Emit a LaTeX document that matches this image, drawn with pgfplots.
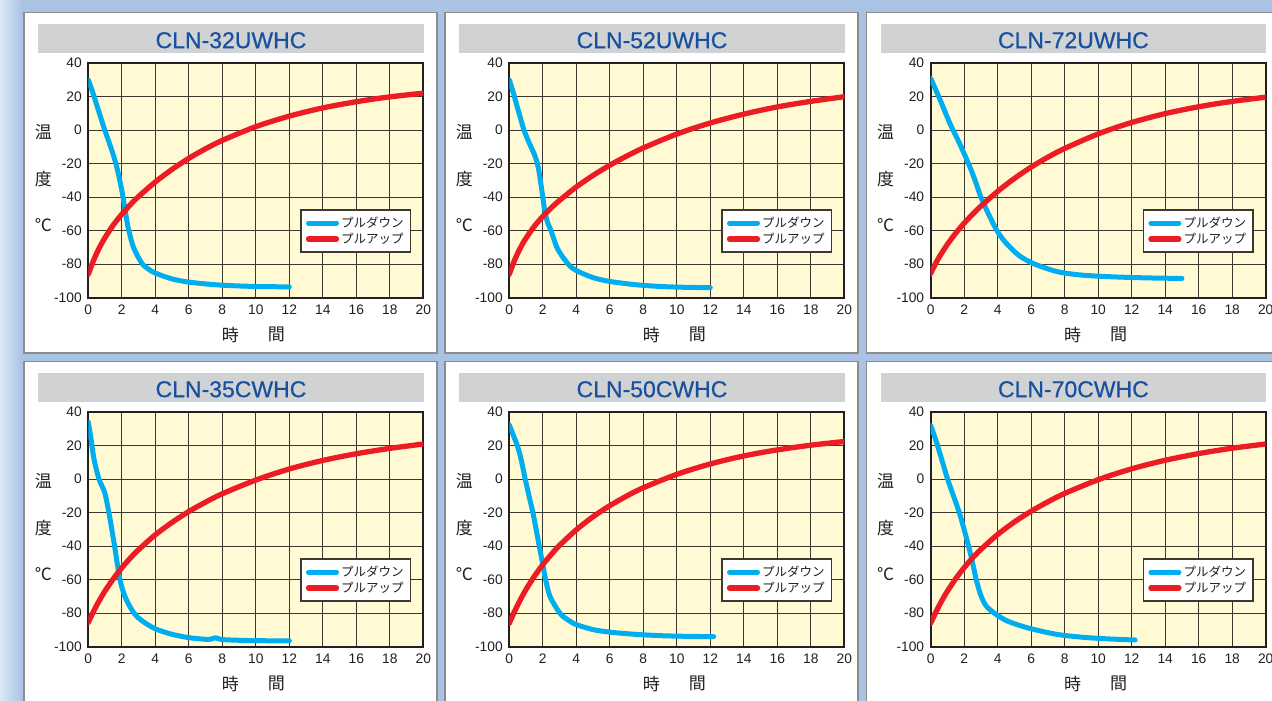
\documentclass[border=0pt]{standalone}
\usepackage{fontspec}
\setmainfont{Liberation Sans}
\newfontfamily\jp{Noto Sans CJK JP}
\newfontfamily\titlefont[FakeBold=0.6]{Liberation Sans}
\usepackage{pgfplots}
\pgfplotsset{compat=1.18}

\definecolor{bgblue}{RGB}{170,194,228}
\definecolor{bglight}{RGB}{218,233,246}
\definecolor{panelc}{RGB}{140,140,140}
\definecolor{titlebar}{RGB}{209,210,212}
\definecolor{titlec}{RGB}{24,80,160}
\definecolor{plotbg}{RGB}{255,250,212}
\definecolor{gridc}{RGB}{60,55,48}
\definecolor{tickc}{RGB}{35,31,32}
\definecolor{pulldown}{RGB}{0,174,239}
\definecolor{pullup}{RGB}{237,28,36}

\pgfplotsset{
  panel/.style={
    scale only axis, width=335pt, height=234.5pt,
    anchor=south west,
    xmin=0, xmax=20, ymin=-100, ymax=40,
    xtick={0,2,...,20}, ytick={-100,-80,...,40},
    xticklabels={0,2,4,6,8,10,12,14,16,18,20},
    yticklabels={-100,-80,-60,-40,-20,0,20,40},
    grid=major,
    major grid style={gridc, line width=1.3pt},
    axis line style={tickc, line width=1.7pt},
    major tick length=0pt,
    tick label style={font=\fontsize{13.8}{14}\selectfont, text=tickc},
    xticklabel style={yshift=-4pt},
    yticklabel style={xshift=-3pt},
    axis background/.style={fill=plotbg},
    legend style={
      at={(1,0)}, anchor=south east, xshift=-12pt, yshift=45pt,
      draw=gridc, line width=1.3pt, fill=white,
      font=\jp\fontsize{12.5}{12.5}\selectfont, text=tickc,
      inner xsep=5pt, inner ysep=5pt,
      nodes={inner sep=2pt},
    },
    legend cell align=left,
    legend image code/.code={\draw[#1] (0pt,0pt) -- (28pt,0pt);},
  },
  pd/.style={pulldown, line width=5pt, line cap=round, line join=round, smooth},
  pu/.style={pullup, line width=5.3pt, line cap=round, line join=round, smooth},
}

% #1 axis left, #2 axis bottom, #3 title, #4 pull-down data, #5 pull-up data
\newcommand\panel[5]{%
  \fill[white] ({#1-64.3},{#2-55.3}) rectangle ({#1+348.7},{#2+285.1});
  \draw[panelc, line width=1.5pt] ({#1-64.3},{#2-55.3}) rectangle ({#1+348.7},{#2+285.1});
  \fill[titlebar] ({#1-50},{#2+245.1}) rectangle ({#1+335.5},{#2+273.5});
  \node[anchor=base, text=titlec, font=\titlefont\fontsize{23}{23}\selectfont] at ({#1+142.7},{#2+249.5}) {#3};
  \node[font=\jp\fontsize{17}{17}\selectfont, text=tickc] at ({#1-45},{#2+165.5}) {温};
  \node[font=\jp\fontsize{17}{17}\selectfont, text=tickc] at ({#1-45},{#2+119}) {度};
  \node[font=\jp\fontsize{17}{17}\selectfont, text=tickc] at ({#1-45},{#2+72.5}) {℃};
  \node[font=\jp\fontsize{17}{17}\selectfont, text=tickc] at ({#1+142},{#2-37}) {時};
  \node[font=\jp\fontsize{17}{17}\selectfont, text=tickc] at ({#1+188},{#2-37}) {間};
  \begin{axis}[panel, at={(#1pt,#2pt)}]
    \addplot[pd] coordinates {#4};
    \addlegendentry{プルダウン}
    \addplot[pu] coordinates {#5};
    \addlegendentry{プルアップ}
  \end{axis}
}

\begin{document}
\begin{tikzpicture}[x=1pt, y=1pt]
\useasboundingbox (0,0) rectangle (1272,701);
\clip (0,0) rectangle (1272,701);
\fill[bgblue] (0,0) rectangle (1272,701);
\shade[left color=bglight, right color=bgblue] (0,0) rectangle (22,701);

% CLN-32UWHC
\panel{88.3}{403.3}{CLN-32UWHC}
{(0,30) (0.3,21.5) (0.6,12) (0.97,0.5) (1.25,-7.5) (1.5,-15) (1.7,-22) (1.88,-30) (2.0,-36) (2.1,-41.5) (2.2,-48) (2.3,-54) (2.42,-60) (2.7,-70) (3.2,-79.5) (3.6,-83) (4,-85.3) (5,-88.8) (6,-90.7) (7.5,-92.2) (9,-93) (10.5,-93.4) (12,-93.5)}
{(0,-86) (0.25,-79.3) (0.5,-73.5) (0.75,-68.5) (1,-64.1) (1.5,-56.5) (2,-50.2) (2.5,-44.6) (3,-39.6) (4,-30.9) (5,-23.4) (6,-16.8) (7,-11.1) (8,-6.1) (10,2.1) (12,8.4) (14,13.3) (16,17.0) (18,19.9) (20,22.1)}

% CLN-52UWHC
\panel{509.3}{403.3}{CLN-52UWHC}
{(0,30) (0.25,22) (0.5,13) (0.88,0) (1.25,-9) (1.5,-14.5) (1.65,-19) (1.78,-25) (1.9,-33) (2.0,-40) (2.13,-49) (2.3,-55.5) (2.49,-60) (2.89,-71) (3.52,-80) (4,-83.8) (5,-88) (6,-90.3) (7.5,-92.2) (9,-93.3) (10.5,-93.8) (12,-94)}
{(0,-86) (0.25,-79.2) (0.5,-73.5) (0.75,-68.6) (1,-64.4) (1.5,-57.3) (2,-51.5) (2.5,-46.4) (3,-41.9) (4,-33.9) (5,-27.0) (6,-20.9) (7,-15.5) (8,-10.6) (10,-2.3) (12,4.3) (14,9.6) (16,13.9) (18,17.2) (20,20.0)}

% CLN-72UWHC
\panel{930.7}{403.3}{CLN-72UWHC}
{(0,31) (0.35,23) (0.65,16) (1.15,4) (1.75,-8.5) (2.3,-21) (2.65,-30) (3.0,-40) (3.45,-50) (3.9,-59) (4.3,-65) (4.7,-69.5) (5.3,-75) (6.1,-79.5) (7.5,-84.3) (9,-86.5) (11,-87.6) (13,-88.2) (15,-88.5)}
{(0,-85.5) (0.25,-80.4) (0.5,-75.9) (0.75,-71.9) (1,-68.1) (1.5,-61.4) (2,-55.5) (2.5,-50.2) (3,-45.3) (4,-36.5) (5,-28.8) (6,-22.0) (7,-16.1) (8,-10.9) (10,-2.2) (12,4.6) (14,9.9) (16,14.0) (18,17.2) (20,19.7)}

% CLN-35CWHC
\panel{88.3}{54.3}{CLN-35CWHC}
{(0,34) (0.15,25) (0.34,12) (0.64,0) (0.98,-8) (1.23,-20) (1.37,-28) (1.57,-40) (1.89,-60) (2.23,-71) (2.73,-80) (3.2,-84.5) (4,-89.3) (5,-92.6) (6,-94.6) (7,-95.6) (7.3,-95.5) (7.6,-94.7) (7.9,-95.6) (8.5,-96) (10,-96.4) (12,-96.5)}
{(0,-85.5) (0.25,-80.2) (0.5,-75.3) (0.75,-70.8) (1,-66.7) (1.5,-59.4) (2,-52.9) (2.5,-47.2) (3,-42.1) (4,-33.2) (5,-25.8) (6,-19.3) (7,-13.7) (8,-8.7) (10,-0.5) (12,6.1) (14,11.2) (16,15.2) (18,18.4) (20,21.0)}

% CLN-50CWHC
\panel{509.3}{54.3}{CLN-50CWHC}
{(0,32.4) (0.25,26) (0.48,20) (0.7,12) (0.95,0) (1.2,-11) (1.45,-22) (1.79,-40) (2.0,-51) (2.17,-60) (2.43,-70) (3.02,-80) (3.5,-84) (4,-86.8) (5,-89.8) (6,-91.3) (7.5,-92.6) (9,-93.4) (10.5,-93.8) (12.2,-94)}
{(0,-86) (0.25,-80.3) (0.5,-75.1) (0.75,-70.3) (1,-65.8) (1.5,-57.9) (2,-51.0) (2.5,-45.0) (3,-39.5) (4,-30.2) (5,-22.4) (6,-15.8) (7,-10.1) (8,-5.1) (10,2.9) (12,9.1) (14,13.9) (16,17.5) (18,20.3) (20,22.5)}

% CLN-70CWHC
\panel{930.7}{54.3}{CLN-70CWHC}
{(0,32) (0.3,23.5) (0.62,13) (1.01,0) (1.36,-10) (1.71,-20) (1.98,-29.5) (2.25,-39.5) (2.5,-50) (2.72,-60) (2.98,-69) (3.3,-75.5) (3.8,-80) (4.4,-83.8) (5,-86.3) (6,-89.3) (7.5,-92.6) (9,-94.3) (10.5,-95.3) (12.2,-96)}
{(0,-86) (0.25,-80.5) (0.5,-75.6) (0.75,-71.0) (1,-66.8) (1.5,-59.3) (2,-52.8) (2.5,-47.0) (3,-41.9) (4,-33.0) (5,-25.5) (6,-19.1) (7,-13.5) (8,-8.5) (10,-0.3) (12,6.2) (14,11.3) (16,15.3) (18,18.5) (20,21.0)}
\end{tikzpicture}
\end{document}
